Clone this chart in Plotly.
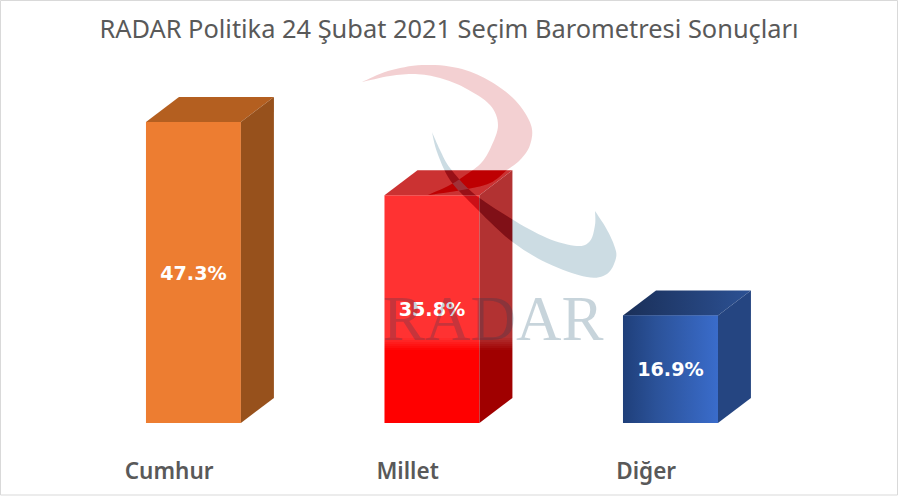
import plotly.graph_objects as go

# ---- data ----
categories = ["Cumhur", "Millet", "Diğer"]
values = [47.3, 35.8, 16.9]
value_labels = ["47.3%", "35.8%", "16.9%"]
title_text = "RADAR Politika 24 Şubat 2021 Seçim Barometresi Sonuçları"
front_colors = ["#ED7D31", "#FF0000", "#3463BE"]
top_colors = ["#B45F20", "#BF0000", "#234275"]
side_colors = ["#97511C", "#A00000", "#254581"]

# ---- geometry ----
W, H = 898, 496
BOTTOM = 73
BAR_W = 0.398
DX = 0.1384
DY = 3.93
X_RANGE = [-0.811, 2.954]
Y_RANGE = [0, 66.46]
TICK_SHIFT = 0.102
LABEL_NUDGE = 0.38


def px(x):
    return x / W


def py(y):
    return (H - BOTTOM - y) / (H - BOTTOM)


fig = go.Figure()
fig.add_trace(go.Bar(x=[0, 1, 2], y=values, width=BAR_W,
                     marker=dict(color=front_colors, line=dict(width=0)),
                     hoverinfo="skip", showlegend=False))

for i, v in enumerate(values):
    l, r = i - BAR_W / 2, i + BAR_W / 2
    top = dict(x=[l, l + DX, r + DX, r, l], y=[v, v + DY, v + DY, v, v],
               mode="lines", line=dict(width=0), fill="toself",
               hoverinfo="skip", showlegend=False)
    side = dict(x=[r, r + DX, r + DX, r, r], y=[0, DY, v + DY, v, 0],
                mode="lines", line=dict(width=0), fill="toself",
                hoverinfo="skip", showlegend=False)
    if i == 2:
        top["fillgradient"] = dict(type="horizontal",
                                   colorscale=[[0, "#1A2F58"], [1, "#2C5194"]])
        fig.add_trace(go.Scatter(**top))
        fig.add_trace(go.Scatter(**side, fillcolor=side_colors[i]))
        fig.add_trace(go.Scatter(x=[l, r, r, l, l], y=[0, 0, v, v, 0], mode="lines",
                                 line=dict(width=0), fill="toself",
                                 fillgradient=dict(type="horizontal",
                                                   colorscale=[[0, "#1F3F7A"], [0.35, "#2B5299"],
                                                               [1, "#3A6CCB"]]),
                                 hoverinfo="skip", showlegend=False))
    else:
        fig.add_trace(go.Scatter(**top, fillcolor=top_colors[i]))
        fig.add_trace(go.Scatter(**side, fillcolor=side_colors[i]))

fig.add_trace(go.Scatter(x=[0, 1, 2], y=[v / 2 - LABEL_NUDGE for v in values], mode="text",
                         text=value_labels,
                         textfont=dict(family="DejaVu Sans", size=19.2, color="white",
                                       weight="bold"),
                         hoverinfo="skip", showlegend=False))


# ---- watermark logo (decoration, in page pixels) ----
def smooth(points, n=8):
    out = []
    for k in range(len(points) - 1):
        p0 = points[max(k - 1, 0)]
        p1, p2 = points[k], points[k + 1]
        p3 = points[min(k + 2, len(points) - 1)]
        for j in range(n):
            t = j / n
            out.append(tuple(
                0.5 * (2 * p1[a] + (p2[a] - p0[a]) * t
                       + (2 * p0[a] - 5 * p1[a] + 4 * p2[a] - p3[a]) * t * t
                       + (3 * p1[a] - p0[a] - 3 * p2[a] + p3[a]) * t ** 3)
                for a in (0, 1)))
    out.append(points[-1])
    return out


def area(poly):
    return sum(poly[i][0] * poly[(i + 1) % len(poly)][1] - poly[(i + 1) % len(poly)][0] * poly[i][1]
               for i in range(len(poly))) / 2


def to_path(poly):
    return "M" + " L".join(f"{px(a):.5f},{py(b):.5f}" for a, b in poly) + " Z"


red_outer = [(362, 82), (388, 71), (422, 65), (458, 68), (488, 80), (515, 100), (531, 125),
             (530, 145), (520, 160), (507, 170), (490, 183), (462, 190), (428, 195)]
red_inner = [(428, 195), (450, 185), (470, 172), (482, 162), (491, 147), (498, 125),
             (490, 105), (465, 88), (440, 78), (415, 74), (390, 76), (362, 82)]
blue_upper = [(432, 132), (440, 150), (450, 168), (473, 193), (510, 218), (547, 238),
              (577, 246), (590, 241), (595, 225), (595, 211)]
blue_lower = [(595, 211), (606, 228), (614, 245), (616, 258), (607, 274), (587, 277),
              (547, 263), (510, 240), (473, 205), (450, 180), (437, 152), (432, 132)]
red_poly = smooth(red_outer) + smooth(red_inner)[1:-1]
blue_poly = smooth(blue_upper) + smooth(blue_lower)[1:-1]

shade_x0, shade_x1, shade_y0, shade_y1 = 350, 617, 60, 338
rect = [(shade_x0, shade_y0), (shade_x1, shade_y0), (shade_x1, shade_y1), (shade_x0, shade_y1)]
rect_sign = area(rect)
holes = ""
for poly in (red_poly, blue_poly):
    p = poly if area(poly) * rect_sign < 0 else poly[::-1]
    holes += " " + to_path(p)

shapes = [
    dict(type="path", xref="paper", yref="paper", path=to_path(rect) + holes,
         fillcolor="rgba(255,255,255,0.196)", line=dict(width=0), layer="above"),
    dict(type="path", xref="paper", yref="paper", path=to_path(red_poly),
         fillcolor="rgba(190,0,10,0.184)", line=dict(width=0), layer="above"),
    dict(type="path", xref="paper", yref="paper", path=to_path(blue_poly),
         fillcolor="rgba(0,80,115,0.2)", line=dict(width=0), layer="above"),
]
for k, a in enumerate([0.17, 0.14, 0.11, 0.08, 0.05, 0.02]):
    shapes.append(dict(type="rect", xref="paper", yref="paper",
                       x0=px(350), x1=px(617), y0=py(338 + 2 * (k + 1)), y1=py(338 + 2 * k),
                       fillcolor=f"rgba(255,255,255,{a})", line=dict(width=0), layer="above"))
shapes.append(dict(type="rect", xref="paper", yref="paper", x0=px(0.5), x1=px(W - 0.5),
                   y0=py(H - 1), y1=py(0.5), fillcolor="rgba(0,0,0,0)",
                   line=dict(color="#D9D9D9", width=1), layer="above"))

fig.update_layout(
    width=W, height=H,
    margin=dict(l=0, r=0, t=0, b=BOTTOM, pad=0),
    paper_bgcolor="white", plot_bgcolor="rgba(0,0,0,0)",
    showlegend=False, barmode="overlay",
    title=dict(text=title_text, x=0.5, xanchor="center", y=0.941, yanchor="middle",
               font=dict(family="Noto Sans", size=25.4, color="#595959")),
    xaxis=dict(range=X_RANGE, tickmode="array",
               tickvals=[i - TICK_SHIFT for i in range(3)], ticktext=categories,
               showgrid=False, zeroline=False, showline=False, ticks="",
               ticklabelstandoff=32,
               tickfont=dict(family="Noto Sans", size=22.5, color="#595959", weight=600)),
    yaxis=dict(range=Y_RANGE, visible=False, showgrid=False, zeroline=False),
    shapes=shapes,
    annotations=[dict(text="RADAR", xref="paper", yref="paper", x=px(493), y=py(318.5),
                      xanchor="center", yanchor="middle", showarrow=False,
                      font=dict(family="Liberation Serif", size=63, color="rgba(0,60,90,0.22)"))],
)

fig.write_html("out.html", config={"displayModeBar": False},
               post_script="document.body.style.margin='0';")
